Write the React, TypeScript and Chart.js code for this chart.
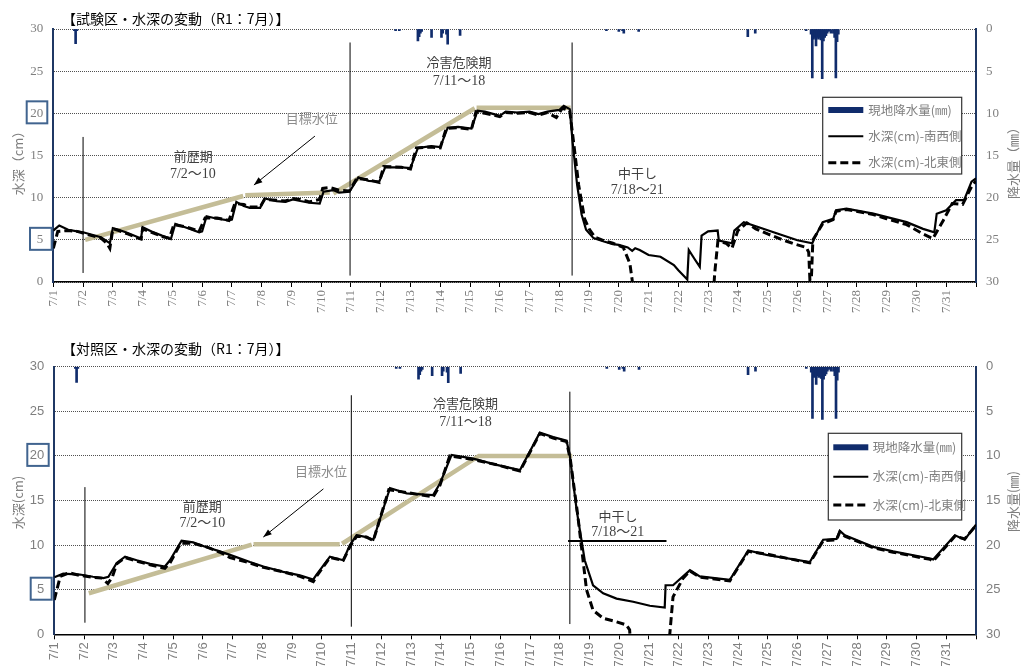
import React, { useEffect, useRef } from "react";
import { Chart, registerables } from "chart.js";
Chart.register(...registerables);

// ---------- DATA ----------
const tickLabels = ["7/1","7/2","7/3","7/4","7/5","7/6","7/7","7/8","7/9","7/10","7/11","7/12","7/13","7/14","7/15","7/16","7/17","7/18","7/19","7/20","7/21","7/22","7/23","7/24","7/25","7/26","7/27","7/28","7/29","7/30","7/31"];

// rainfall [hour since 7/1 0:00, mm]
const rainHourly: [number, number][] = [
  [17,0.2],[18,1.75],[19,0.2],
  [276,0.2],[279,0.2],
  [294,1.4],[295,0.9],[296,0.5],[297,0.3],
  [305,1.0],[313,1.0],[314,0.5],[317,0.6],[318,1.8],[328,0.75],
  [446,0.2],[456,0.3],[459,0.2],[460,0.5],[472,0.3],
  [560,0.9],[566,0.5],
  [607,0.2],[611,0.6],[612,5.8],[613,1.2],[614,1.0],[615,2.0],[616,1.0],[617,1.2],[618,1.0],[619,1.3],[620,5.9],[621,1.4],[622,1.0],[623,0.8],[624,0.5],[625,0.3],[626,0.2],[627,0.5],[629,0.5],[630,1.0],[631,5.8],[632,1.5],[633,0.6]
];

// [day offset from 7/1 0:00, cm]
const testSW: [number, number | null][] = [
  [0,6.1],[0.2,6.7],[0.5,6.2],[0.8,6.0],[1.0,5.9],[1.3,5.6],[1.6,5.3],[1.9,4.6],[2.0,6.4],[2.2,6.2],[2.5,5.8],[2.85,5.3],[2.95,5.2],[3.0,6.5],[3.3,6.0],[3.65,5.5],[3.95,5.1],[4.1,6.9],[4.5,6.4],[4.9,5.9],[5.0,6.0],[5.15,7.8],[5.5,7.5],[5.9,7.3],[6.0,7.4],[6.15,9.5],[6.4,9.0],[6.6,8.8],[6.95,8.8],[7.1,9.9],[7.5,9.6],[7.8,9.5],[8.05,9.8],[8.3,9.6],[8.6,9.4],[8.95,9.3],[9.08,10.7],[9.4,10.9],[9.6,10.6],[9.95,10.7],[10.25,12.4],[10.6,12.0],[10.95,11.9],[11.15,13.6],[11.7,13.6],[12.0,13.5],[12.25,15.9],[12.7,16.1],[13.0,16.0],[13.25,18.3],[13.6,18.4],[14.05,18.2],[14.25,20.3],[14.5,20.2],[14.8,19.9],[15.0,19.7],[15.2,20.2],[15.6,20.1],[16.0,20.2],[16.3,19.9],[16.6,20.2],[17.0,20.4],[17.15,20.9],[17.35,20.5],[17.45,16.5],[17.6,11.5],[17.75,8.0],[17.9,6.2],[18.15,5.2],[18.5,4.8],[18.8,4.5],[19.0,4.4],[19.3,4.1],[19.45,3.7],[19.55,4.0],[19.7,3.8],[20.0,3.2],[20.4,3.0],[20.85,2.0],[21.0,1.4],[21.3,0.3],[21.35,3.8],[21.55,2.7],[21.72,1.8],[21.78,5.5],[22.0,6.0],[22.32,6.1],[22.36,4.9],[22.8,4.6],[22.88,6.1],[23.2,7.1],[24.2,5.9],[25.0,4.95],[25.5,4.6],[25.6,5.4],[25.85,7.1],[26.2,7.5],[26.3,8.5],[26.65,8.7],[27.55,8.1],[28.67,7.1],[29.22,6.3],[29.6,5.9],[29.68,8.1],[30.0,8.5],[30.33,9.7],[30.6,9.7],[30.85,11.9],[31,12.3]
];
const testNE: [number, number | null][] = [
  [0,4.0],[0.15,6.0],[0.5,6.1],[0.8,6.0],[1.0,5.8],[1.3,5.5],[1.6,5.2],[1.8,4.6],[1.9,4.0],[2.0,6.3],[2.2,6.1],[2.5,5.7],[2.85,5.2],[2.95,5.1],[3.0,6.3],[3.3,5.9],[3.65,5.4],[3.9,5.2],[4.05,6.8],[4.5,6.5],[4.9,6.0],[5.1,7.6],[5.5,7.6],[5.9,7.3],[6.1,9.3],[6.4,9.2],[6.6,8.9],[6.95,8.9],[7.1,9.8],[7.5,9.7],[7.8,9.6],[8.05,9.9],[8.3,9.8],[8.6,9.5],[8.95,9.8],[9.05,11.1],[9.3,11.2],[9.6,10.9],[9.95,10.8],[10.2,12.3],[10.6,12.1],[10.95,11.8],[11.1,13.7],[11.7,13.6],[12.0,13.4],[12.2,15.9],[12.7,16.0],[13.0,15.9],[13.2,18.2],[13.6,18.3],[14.05,18.1],[14.2,20.2],[14.5,20.0],[14.8,19.8],[15.0,19.6],[15.2,20.1],[15.6,20.0],[16.0,20.1],[16.3,19.8],[16.6,20.1],[16.9,19.5],[17.1,20.6],[17.35,20.3],[17.5,16.0],[17.65,11.5],[17.85,7.5],[18.0,6.3],[18.2,5.3],[18.5,4.9],[18.8,4.6],[19.15,4.1],[19.37,2.2],[19.45,0.2],[19.5,-3],[20.8,null],[22.15,-3],[22.22,1.0],[22.33,4.9],[22.6,4.6],[22.8,4.0],[23.0,6.1],[23.3,7.0],[23.6,6.3],[24.0,5.7],[24.5,5.0],[24.9,4.5],[25.3,4.1],[25.38,3.5],[25.42,0.2],[25.47,0.5],[25.52,5.0],[25.85,6.9],[26.2,7.4],[26.3,8.4],[26.65,8.6],[27.55,8.0],[28.0,7.5],[28.67,6.8],[29.22,5.7],[29.55,5.15],[29.9,7.3],[30.2,9.3],[30.55,9.2],[30.85,11.3],[31,12.0]
];
const ctrlSW: [number, number | null][] = [
  [0,6.4],[0.3,6.8],[0.86,6.7],[1.3,6.45],[1.65,6.3],[1.82,6.45],[2.1,8.0],[2.38,8.7],[2.77,8.3],[3.22,7.9],[3.72,7.6],[3.89,8.3],[4.28,10.5],[4.67,10.3],[5.12,9.75],[5.57,9.3],[5.91,8.9],[6.58,8.1],[7.03,7.6],[7.7,7.0],[8.26,6.6],[8.71,6.15],[8.82,6.7],[9.27,8.7],[9.72,8.3],[9.94,10.0],[10.17,11.1],[10.5,10.9],[10.73,10.6],[11.29,16.4],[11.85,15.8],[12.74,15.6],[12.97,16.9],[13.36,20.1],[14.09,19.7],[14.88,19.0],[15.66,18.4],[16.33,22.6],[16.78,22.1],[17.23,21.7],[17.34,20.0],[17.57,13.9],[17.84,8.3],[18.12,5.5],[18.46,4.6],[18.91,4.0],[19.47,3.65],[20.03,3.2],[20.53,3.0],[20.56,5.5],[20.81,5.5],[21.38,7.2],[21.71,6.5],[22.72,6.1],[23.34,9.4],[23.95,8.9],[25.41,8.1],[25.86,10.6],[26.31,10.7],[26.42,11.6],[26.59,11.1],[27.54,9.8],[28.21,9.3],[29.46,8.5],[29.56,8.4],[30.29,11.1],[30.62,10.6],[31,12.3]
];
const ctrlNE: [number, number | null][] = [
  [0,3.85],[0.2,6.5],[0.5,6.9],[0.86,6.6],[1.3,6.4],[1.6,6.3],[1.8,5.7],[1.95,6.4],[2.1,7.9],[2.38,8.6],[2.77,8.2],[3.22,7.8],[3.72,7.4],[3.89,8.0],[4.25,10.2],[4.67,10.2],[5.12,9.8],[5.57,9.2],[5.91,8.6],[6.58,8.0],[7.03,7.5],[7.7,7.0],[8.26,6.5],[8.71,5.9],[8.82,6.5],[9.27,8.6],[9.72,8.3],[9.94,9.8],[10.17,11.0],[10.5,10.9],[10.73,10.5],[11.25,16.2],[11.85,15.9],[12.74,15.4],[12.97,16.7],[13.3,20.0],[14.09,19.6],[14.88,19.0],[15.66,18.3],[16.33,22.5],[16.78,22.0],[17.23,21.6],[17.36,19.5],[17.6,13.5],[17.9,5.0],[18.12,2.7],[18.46,1.8],[18.91,1.4],[19.24,1.05],[19.35,0.5],[19.42,-3],[20.0,null],[20.65,-3],[20.7,0],[20.81,4.2],[21.15,6.3],[21.38,7.1],[21.71,6.4],[22.72,6.0],[23.34,9.3],[23.95,9.0],[25.41,8.0],[25.86,10.5],[26.31,10.6],[26.42,11.5],[26.59,11.0],[27.54,9.7],[28.21,9.2],[29.46,8.4],[29.56,8.2],[30.29,11.0],[30.62,10.7],[31,12.2]
];

// target water level (目標水位)
const testTarget: [number, number | null][] = [
  [1.07,5.0],[6.38,10.2],[6.42,null],[6.45,10.3],[9.29,10.6],[9.35,null],[9.41,10.5],[14.16,20.6],[14.19,null],[14.22,20.65],[17.38,20.65]
];
const ctrlTarget: [number, number | null][] = [
  [1.16,4.6],[6.64,10.05],[6.67,null],[6.7,10.1],[9.6,10.1],[9.64,null],[9.68,10.15],[14.28,20.0],[17.42,20.0]
];

// period markers [day, fromCm, toCm]
const testVLines: [number, number, number][] = [[1.0,1.07,17.2],[9.97,0.76,28.4],[17.43,0.76,28.4]];
const ctrlVLines: [number, number, number][] = [[1.03,1.3,16.5],[9.99,0.85,26.8],[17.34,1.15,27.2]];
const ctrlDrainBar: [number, number][] = [[17.28,10.46],[20.59,10.46]];

// arrows [fromDay, fromCm, toDay, toCm]
const testArrow = [8.79,17.3,6.74,11.5];
const ctrlArrow = [9.05,16.3,7.03,10.9];

// annotations [text, day, cm]
const testNotes: [string, number, number][] = [
  ["目標水位",8.68,19.4],["前歴期",4.70,14.9],["7/2～10",4.69,12.8],
  ["冷害危険期",13.63,26.06],["7/11～18",13.63,23.8],["中干し",19.63,12.87],["7/18～21",19.62,10.9]
];
const ctrlNotes: [string, number, number][] = [
  ["目標水位",8.97,18.34],["前歴期",4.98,14.42],["7/2～10",4.98,12.44],
  ["冷害危険期",13.83,25.9],["7/11～18",13.83,23.77],["中干し",18.96,13.26],["7/18～21",18.95,11.47]
];

// ---------- STYLE ----------
const NAVY = "#102C6C";
const AXISNAVY = "#1F3864";
const BEIGE = "#C4BD97";
const GRAY = "#7F7F7F";
const JP = '"Noto Sans CJK JP"';
const SERIF = '"Liberation Serif", "Noto Sans CJK JP"';
const SANS = '"Liberation Sans", "Noto Sans CJK JP"';

type Panel = {
  title: string; sw: [number, number|null][]; ne: [number, number|null][]; target: [number, number|null][];
  vlines: [number, number, number][]; hbar?: [number, number][]; arrow: number[]; notes: [string, number, number][];
  height: number; top: number; left: number; xHeight: number; tickFamily: string;
  yTitle: string; y2Title: string; legendTexts: string[];
  legend: { x0: number; y0: number; x1: number; y1: number; rows: number[]; s0: number; s1: number; tx: number };
  boxes: { v: number; x: number; w: number }[];
  yTitleY: number; y2TitleY: number;
};

const TOP: Panel = {
  title: "【試験区・水深の変動（R1：7月）】",
  sw: testSW, ne: testNE, target: testTarget, vlines: testVLines, arrow: testArrow, notes: testNotes,
  height: 330, top: 29, left: 53.3, xHeight: 48, tickFamily: SERIF,
  yTitle: "水深（cm）", y2Title: "降水量（㎜）",
  legendTexts: ["現地降水量(㎜)", "水深(cm)-南西側", "水深(cm)-北東側"],
  legend: { x0: 822.7, y0: 97.3, x1: 961.7, y1: 174, rows: [110, 136.3, 162.7], s0: 828.3, s1: 863.3, tx: 868.3 },
  boxes: [{ v: 20, x: 26.7, w: 20.6 }, { v: 5, x: 30, w: 21.7 }],
  yTitleY: 160, y2TitleY: 160,
};
const BOTTOM: Panel = {
  title: "【対照区・水深の変動（R1：7月）】",
  sw: ctrlSW, ne: ctrlNE, target: ctrlTarget, vlines: ctrlVLines, hbar: ctrlDrainBar, arrow: ctrlArrow, notes: ctrlNotes,
  height: 336, top: 36.7, left: 54.3, xHeight: 31.7, tickFamily: SANS,
  yTitle: "水深(cm)", y2Title: "降水量(㎜)",
  legendTexts: ["現地降水量(㎜)", "水深(cm)-南西側", "水深(cm)-北東側"],
  legend: { x0: 828.3, y0: 103.3, x1: 961.7, y1: 190, rows: [117.3, 146.7, 175], s0: 833.3, s1: 868.3, tx: 872.7 },
  boxes: [{ v: 20, x: 27.3, w: 21.4 }, { v: 5, x: 30.7, w: 21 }],
  yTitleY: 172.5, y2TitleY: 171.5,
};

const toXY = (arr: [number, number | null][]) => arr.map(([x, y]) => ({ x, y }));

function makeChart(canvas: HTMLCanvasElement, p: Panel) {
  const decor = {
    id: "decor",
    afterDraw(chart: any) {
      const { ctx, scales } = chart;
      const x = scales.x, y = scales.y;
      ctx.save();
      // title
      ctx.fillStyle = "#000";
      ctx.font = `14px ${JP}`;
      ctx.textAlign = "left";
      ctx.textBaseline = "middle";
      ctx.fillText(p.title, 62, 19);
      // notes
      ctx.textAlign = "center";
      for (const [s, d, v] of p.notes) {
        const isNum = /^\d/.test(s);
        ctx.font = isNum ? `14px ${SERIF}` : `13px ${JP}`;
        ctx.fillStyle = s === "目標水位" ? "#8C8C8C" : "#404040";
        ctx.fillText(s, x.getPixelForValue(d), y.getPixelForValue(v));
      }
      // arrow
      const [fd, fv, td, tv] = p.arrow;
      const ax0 = x.getPixelForValue(fd), ay0 = y.getPixelForValue(fv);
      const ax1 = x.getPixelForValue(td), ay1 = y.getPixelForValue(tv);
      ctx.strokeStyle = "#000"; ctx.fillStyle = "#000"; ctx.lineWidth = 1;
      ctx.beginPath(); ctx.moveTo(ax0, ay0); ctx.lineTo(ax1, ay1); ctx.stroke();
      const ang = Math.atan2(ay1 - ay0, ax1 - ax0);
      ctx.beginPath();
      ctx.moveTo(ax1, ay1);
      ctx.lineTo(ax1 - 9 * Math.cos(ang - 0.35), ay1 - 9 * Math.sin(ang - 0.35));
      ctx.lineTo(ax1 - 9 * Math.cos(ang + 0.35), ay1 - 9 * Math.sin(ang + 0.35));
      ctx.closePath(); ctx.fill();
      // legend
      const L = p.legend;
      ctx.fillStyle = "#fff";
      ctx.fillRect(L.x0, L.y0, L.x1 - L.x0, L.y1 - L.y0);
      ctx.strokeStyle = "#333"; ctx.lineWidth = 1.2;
      ctx.strokeRect(L.x0, L.y0, L.x1 - L.x0, L.y1 - L.y0);
      ctx.fillStyle = NAVY;
      ctx.fillRect(L.s0, L.rows[0] - 3, L.s1 - L.s0, 6);
      ctx.strokeStyle = "#000"; ctx.lineWidth = 2;
      ctx.beginPath(); ctx.moveTo(L.s0, L.rows[1]); ctx.lineTo(L.s1, L.rows[1]); ctx.stroke();
      ctx.lineWidth = 3; ctx.setLineDash([8, 4]);
      ctx.beginPath(); ctx.moveTo(L.s0, L.rows[2]); ctx.lineTo(L.s1, L.rows[2]); ctx.stroke();
      ctx.setLineDash([]);
      ctx.fillStyle = GRAY; ctx.textAlign = "left"; ctx.font = `12.5px ${JP}`;
      p.legendTexts.forEach((t, i) => ctx.fillText(t, L.tx, L.rows[i]));
      // axis titles
      ctx.font = `13px ${JP}`; ctx.fillStyle = GRAY; ctx.textAlign = "center";
      ctx.save(); ctx.translate(18, p.yTitleY); ctx.rotate(-Math.PI / 2); ctx.fillText(p.yTitle, 0, 0); ctx.restore();
      ctx.save(); ctx.translate(1013, p.y2TitleY); ctx.rotate(-Math.PI / 2); ctx.fillText(p.y2Title, 0, 0); ctx.restore();
      // blue boxes around ticks
      ctx.strokeStyle = "#41648F"; ctx.lineWidth = 2;
      for (const b of p.boxes) {
        const cy = y.getPixelForValue(b.v) - 1;
        ctx.strokeRect(b.x, cy - 11, b.w, 22);
      }
      ctx.restore();
    },
  };

  const datasets: any[] = [
    { type: "line", label: "sw", data: toXY(p.sw), borderColor: "#000", borderWidth: 2.2, pointRadius: 0, order: 0, yAxisID: "y" },
    { type: "line", label: "ne", data: toXY(p.ne), borderColor: "#000", borderWidth: 3, borderDash: [8, 4], pointRadius: 0, order: 1, yAxisID: "y" },
    ...p.vlines.map(([d, a, b]) => ({ type: "line", data: [{ x: d, y: a }, { x: d, y: b }], borderColor: "#000", borderWidth: 1, pointRadius: 0, order: 2, yAxisID: "y" })),
    ...(p.hbar ? [{ type: "line", data: toXY(p.hbar), borderColor: "#000", borderWidth: 2, pointRadius: 0, order: 2, yAxisID: "y" }] : []),
    { type: "line", label: "target", data: toXY(p.target), borderColor: BEIGE, borderWidth: 4.5, pointRadius: 0, order: 3, yAxisID: "y" },
    { type: "bar", label: "rain", data: rainHourly.map(([h, mm]) => ({ x: h / 24, y: mm })), backgroundColor: NAVY, barThickness: 2, order: 4, yAxisID: "y2" },
  ];

  return new Chart(canvas, {
    type: "line",
    data: { datasets },
    plugins: [decor],
    options: {
      responsive: false,
      animation: false,
      devicePixelRatio: 1,
      events: [],
      layout: { padding: { top: p.top, left: 0, right: 0, bottom: 0 } },
      plugins: { legend: { display: false }, tooltip: { enabled: false }, title: { display: false } },
      scales: {
        x: {
          type: "linear", min: 0, max: 31, offset: false,
          grid: { display: true, drawOnChartArea: false, drawTicks: true, tickLength: 5, color: "#000", offset: false },
          border: { color: "#000", width: 1.5 },
          ticks: {
            stepSize: 1, maxTicksLimit: 40, autoSkip: false, maxRotation: 90, minRotation: 90, padding: 3,
            color: GRAY, font: { family: p.tickFamily, size: 13 },
            callback: (v: any) => (Number.isInteger(v) && v < 31 ? tickLabels[v] : ""),
          },
          afterFit: (s: any) => { s.height = p.xHeight; },
        },
        y: {
          type: "linear", position: "left", min: 0, max: 30,
          grid: { display: true, drawTicks: false, color: "#505050", lineWidth: 1 },
          border: { color: AXISNAVY, width: 2, dash: [1, 1] },
          ticks: { stepSize: 5, padding: 10, color: GRAY, font: { family: p.tickFamily, size: 13 } },
          afterFit: (s: any) => { s.width = p.left; },
        },
        y2: {
          type: "linear", position: "right", min: 0, max: 30, reverse: true,
          grid: { display: true, drawOnChartArea: false, drawTicks: false },
          border: { color: AXISNAVY, width: 2 },
          ticks: { stepSize: 5, padding: 10, color: GRAY, font: { family: p.tickFamily, size: 13 } },
          afterFit: (s: any) => { s.width = 47; },
        },
      },
    } as any,
  });
}

export default function App() {
  const topRef = useRef<HTMLCanvasElement>(null);
  const botRef = useRef<HTMLCanvasElement>(null);
  useEffect(() => {
    const c1 = makeChart(topRef.current!, TOP);
    const c2 = makeChart(botRef.current!, BOTTOM);
    return () => { c1.destroy(); c2.destroy(); };
  }, []);
  return (
    <div style={{ position: "fixed", left: 0, top: 0, width: 1023, height: 666, background: "#fff", overflow: "hidden" }}>
      <canvas ref={topRef} width={1023} height={330} style={{ position: "absolute", left: 0, top: 0 }} />
      <canvas ref={botRef} width={1023} height={336} style={{ position: "absolute", left: 0, top: 330 }} />
    </div>
  );
}
